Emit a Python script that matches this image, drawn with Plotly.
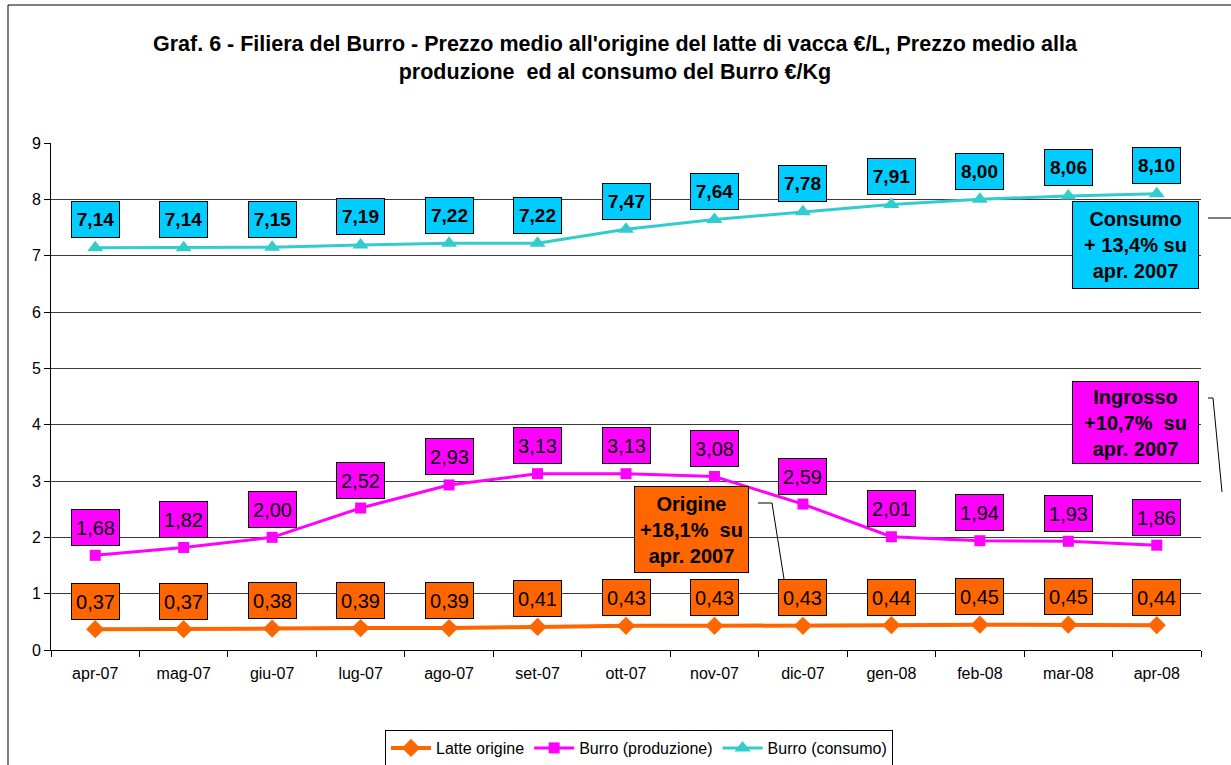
import plotly.graph_objects as go

months = ["apr-07", "mag-07", "giu-07", "lug-07", "ago-07", "set-07", "ott-07",
          "nov-07", "dic-07", "gen-08", "feb-08", "mar-08", "apr-08"]
latte = [0.37, 0.37, 0.38, 0.39, 0.39, 0.41, 0.43, 0.43, 0.43, 0.44, 0.45, 0.45, 0.44]
produzione = [1.68, 1.82, 2.00, 2.52, 2.93, 3.13, 3.13, 3.08, 2.59, 2.01, 1.94, 1.93, 1.86]
consumo = [7.14, 7.14, 7.15, 7.19, 7.22, 7.22, 7.47, 7.64, 7.78, 7.91, 8.00, 8.06, 8.10]
y_ticks = [0, 1, 2, 3, 4, 5, 6, 7, 8, 9]

FONT = "Liberation Sans, Arial, sans-serif"
C_LATTE = "#FF6600"
C_PROD = "#FF00FF"
C_CONS = "#33CCCC"
C_CONS_BOX = "#00CCFF"

fig = go.Figure()
fig.add_trace(go.Scatter(x=months, y=latte, name="Latte origine", mode="lines+markers",
                         line=dict(color=C_LATTE, width=4),
                         marker=dict(symbol="diamond", size=14, color=C_LATTE)))
fig.add_trace(go.Scatter(x=months, y=produzione, name="Burro (produzione)", mode="lines+markers",
                         line=dict(color=C_PROD, width=3),
                         marker=dict(symbol="square", size=11, color=C_PROD)))
fig.add_trace(go.Scatter(x=months, y=consumo, name="Burro (consumo)", mode="lines+markers",
                         line=dict(color=C_CONS, width=3),
                         marker=dict(symbol="triangle-up", size=14, color=C_CONS)))

def fmt(v):
    return f"{v:.2f}".replace(".", ",")

ann = []
for series, box, bold in [(latte, C_LATTE, False), (produzione, C_PROD, False), (consumo, C_CONS_BOX, True)]:
    for m, v in zip(months, series):
        txt = f"<b>{fmt(v)}</b>" if bold else fmt(v)
        ann.append(dict(x=m, y=v, xref="x", yref="y", text=txt, showarrow=False,
                        xanchor="center", yanchor="middle",
                        yshift=28, bgcolor=box, bordercolor="#000000", borderwidth=1,
                        width=45, height=33,
                        font=dict(family=FONT, size=19 if bold else 20, color="#000000")))

# pixel -> paper helpers (plot area: x 51..1201, y 143..650)
L, R, T, B = 51, 1201, 143, 650

def px(x):
    return (x - L) / float(R - L)

def py(y):
    return (B - y) / float(B - T)

# title
ann.append(dict(x=px(615.5), y=py(58), xref="paper", yref="paper", xanchor="center", yanchor="middle",
                text="<b>Graf. 6 - Filiera del Burro - Prezzo medio all'origine del latte di vacca €/L, Prezzo medio alla<br>produzione  ed al consumo del Burro €/Kg</b>",
                showarrow=False, align="center", font=dict(family=FONT, size=21.5, color="#000000")))

callouts = [
    ("<b>Consumo<br>+ 13,4% su<br>apr. 2007</b>", C_CONS_BOX, 1073, 1198, 202, 288),
    ("<b>Ingrosso<br>+10,7%  su<br>apr. 2007</b>", C_PROD, 1073, 1198, 382, 463),
    ("<b>Origine<br>+18,1%  su<br>apr. 2007</b>", C_LATTE, 635, 748, 487, 572),
]
for txt, col, x0, x1, y0, y1 in callouts:
    ann.append(dict(x=px((x0 + x1) / 2), y=py((y0 + y1) / 2), xref="paper", yref="paper",
                    xanchor="center", yanchor="middle",
                    text=txt, showarrow=False, bgcolor=col, bordercolor="#000000", borderwidth=1,
                    width=x1 - x0 - 2, height=y1 - y0 - 2, align="center",
                    font=dict(family=FONT, size=20, color="#000000")))

shapes = [
    # outer chart border
    dict(type="rect", xref="paper", yref="paper", x0=px(8), x1=px(1240), y0=py(5), y1=py(770),
         line=dict(color="#000000", width=1), fillcolor="rgba(0,0,0,0)", layer="below"),
    # leader lines
    dict(type="line", xref="paper", yref="paper", x0=px(1208), x1=px(1235), y0=py(218), y1=py(218),
         line=dict(color="#000000", width=1)),
    dict(type="path", xref="paper", yref="paper",
         path=f"M {px(1208)} {py(398)} L {px(1213)} {py(398)} L {px(1222)} {py(492)}",
         line=dict(color="#000000", width=1)),
    dict(type="path", xref="paper", yref="paper",
         path=f"M {px(758)} {py(503)} L {px(772)} {py(503)} L {px(784)} {py(579)}",
         line=dict(color="#000000", width=1)),
]

fig.update_layout(
    width=1231, height=765,
    margin=dict(l=L, r=1231 - R, t=T, b=765 - B, autoexpand=False),
    paper_bgcolor="#FFFFFF", plot_bgcolor="#FFFFFF",
    font=dict(family=FONT, size=16, color="#000000"),
    xaxis=dict(type="category", categoryorder="array", categoryarray=months,
               range=[-0.5, 12.5], showline=True, linecolor="#000000", linewidth=1,
               ticks="outside", ticklen=6, tickcolor="#000000", tickson="boundaries",
               ticklabelstandoff=9,
               showgrid=False, tickfont=dict(size=16), zeroline=False, automargin=False),
    yaxis=dict(range=[0, 9], tickvals=y_ticks, showline=True, linecolor="#000000", linewidth=1,
               ticks="outside", ticklen=6, tickcolor="#000000", showgrid=True,
               gridcolor="#3a3a3a", gridwidth=1, zeroline=False, tickfont=dict(size=16),
               automargin=False),
    legend=dict(orientation="h", xref="container", yref="container",
                x=639 / 1231, xanchor="center", y=1 - 730 / 765, yanchor="top",
                bordercolor="#000000", borderwidth=1, font=dict(size=16), itemwidth=40,
                tracegroupgap=0),
    annotations=ann, shapes=shapes,
    showlegend=True,
)

fig.write_html("out.html", config={"displayModeBar": False},
               post_script="document.body.style.margin='0px';")
